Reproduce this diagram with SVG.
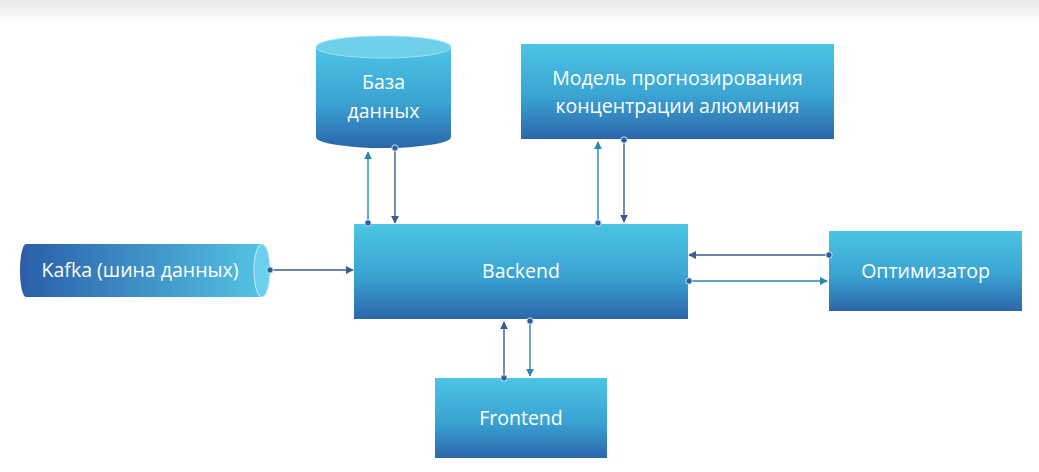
<svg xmlns="http://www.w3.org/2000/svg" width="1039" height="472" viewBox="0 0 1039 472">
<defs>
<linearGradient id="gv" x1="0" y1="0" x2="0" y2="1">
<stop offset="0" stop-color="#4cc4e4"/>
<stop offset="0.55" stop-color="#3aa3d2"/>
<stop offset="1" stop-color="#2b66ab"/>
</linearGradient>
<linearGradient id="gh" x1="0" y1="0" x2="1" y2="0">
<stop offset="0" stop-color="#2a5ea8"/>
<stop offset="1" stop-color="#55c6e6"/>
</linearGradient>
<linearGradient id="top" x1="0" y1="0" x2="0" y2="1">
<stop offset="0" stop-color="#e8e8e8"/>
<stop offset="1" stop-color="#ffffff"/>
</linearGradient>
<marker id="ah" viewBox="0 0 10 10" refX="9" refY="5" markerWidth="8" markerHeight="8" orient="auto" markerUnits="userSpaceOnUse">
<path d="M0,0 L10,5 L0,10 z" fill="context-stroke"/>
</marker>
<marker id="dot" viewBox="0 0 10 10" refX="5" refY="5" markerWidth="8" markerHeight="8" markerUnits="userSpaceOnUse">
<circle cx="5" cy="5" r="4" fill="#2d5f9e" stroke="#cfe8f5" stroke-width="1.2"/>
</marker>
</defs>
<style>
.t{font-family:"Open Sans","Noto Sans",sans-serif;font-size:19.5px;fill:#ffffff;text-anchor:middle}
.c{fill:none;stroke-width:1.4;marker-start:url(#dot);marker-end:url(#ah)}
.d{stroke:#3b5c8c}
.l{stroke:#2a86ad}
</style>
<rect x="0" y="0" width="1039" height="24" fill="url(#top)"/>
<g id="db">
<path d="M316,47 L316,137 A67.5,11 0 0 0 451,137 L451,47 Z" fill="url(#gv)"/>
<ellipse cx="383.5" cy="47" rx="67.5" ry="11" fill="#6fd0ea" stroke="#9fe0f2" stroke-width="1"/>
<text class="t" x="383.5" y="89">База</text>
<text class="t" x="383.5" y="118">данных</text>
</g>
<g id="model">
<rect x="521" y="44" width="313" height="95" fill="url(#gv)"/>
<text class="t" x="677.5" y="85">Модель прогнозирования</text>
<text class="t" x="677.5" y="113">концентрации алюминия</text>
</g>
<g id="kafka">
<path d="M26,244 L262,244 A8,26.5 0 0 1 262,297 L26,297 A6,26.5 0 0 1 26,244 Z" fill="url(#gh)"/>
<ellipse cx="262" cy="270.5" rx="8" ry="26.5" fill="#6ad0ec" stroke="#c9eef8" stroke-width="1"/>
<text class="t" x="140" y="277">Kafka (шина данных)</text>
</g>
<g id="backend">
<rect x="354" y="224" width="334" height="95" fill="url(#gv)"/>
<text class="t" x="521" y="278">Backend</text>
</g>
<g id="optimizer">
<rect x="829" y="231" width="193" height="80" fill="url(#gv)"/>
<text class="t" x="925.5" y="278">Оптимизатор</text>
</g>
<g id="frontend">
<rect x="435" y="378" width="172" height="80" fill="url(#gv)"/>
<text class="t" x="521" y="425">Frontend</text>
</g>
<g id="connectors">
<line class="c l" x1="368" y1="223" x2="368" y2="152"/>
<line class="c d" x1="395" y1="148" x2="395" y2="223"/>
<line class="c l" x1="598" y1="223" x2="598" y2="142"/>
<line class="c d" x1="624" y1="140" x2="624" y2="222"/>
<line class="c d" x1="270" y1="270" x2="353" y2="270"/>
<line class="c d" x1="829" y1="255" x2="689" y2="255"/>
<line class="c l" x1="689" y1="281" x2="827" y2="281"/>
<line class="c d" x1="504" y1="378" x2="504" y2="322"/>
<line class="c l" x1="530" y1="321" x2="530" y2="376"/>
</g>
</svg>
